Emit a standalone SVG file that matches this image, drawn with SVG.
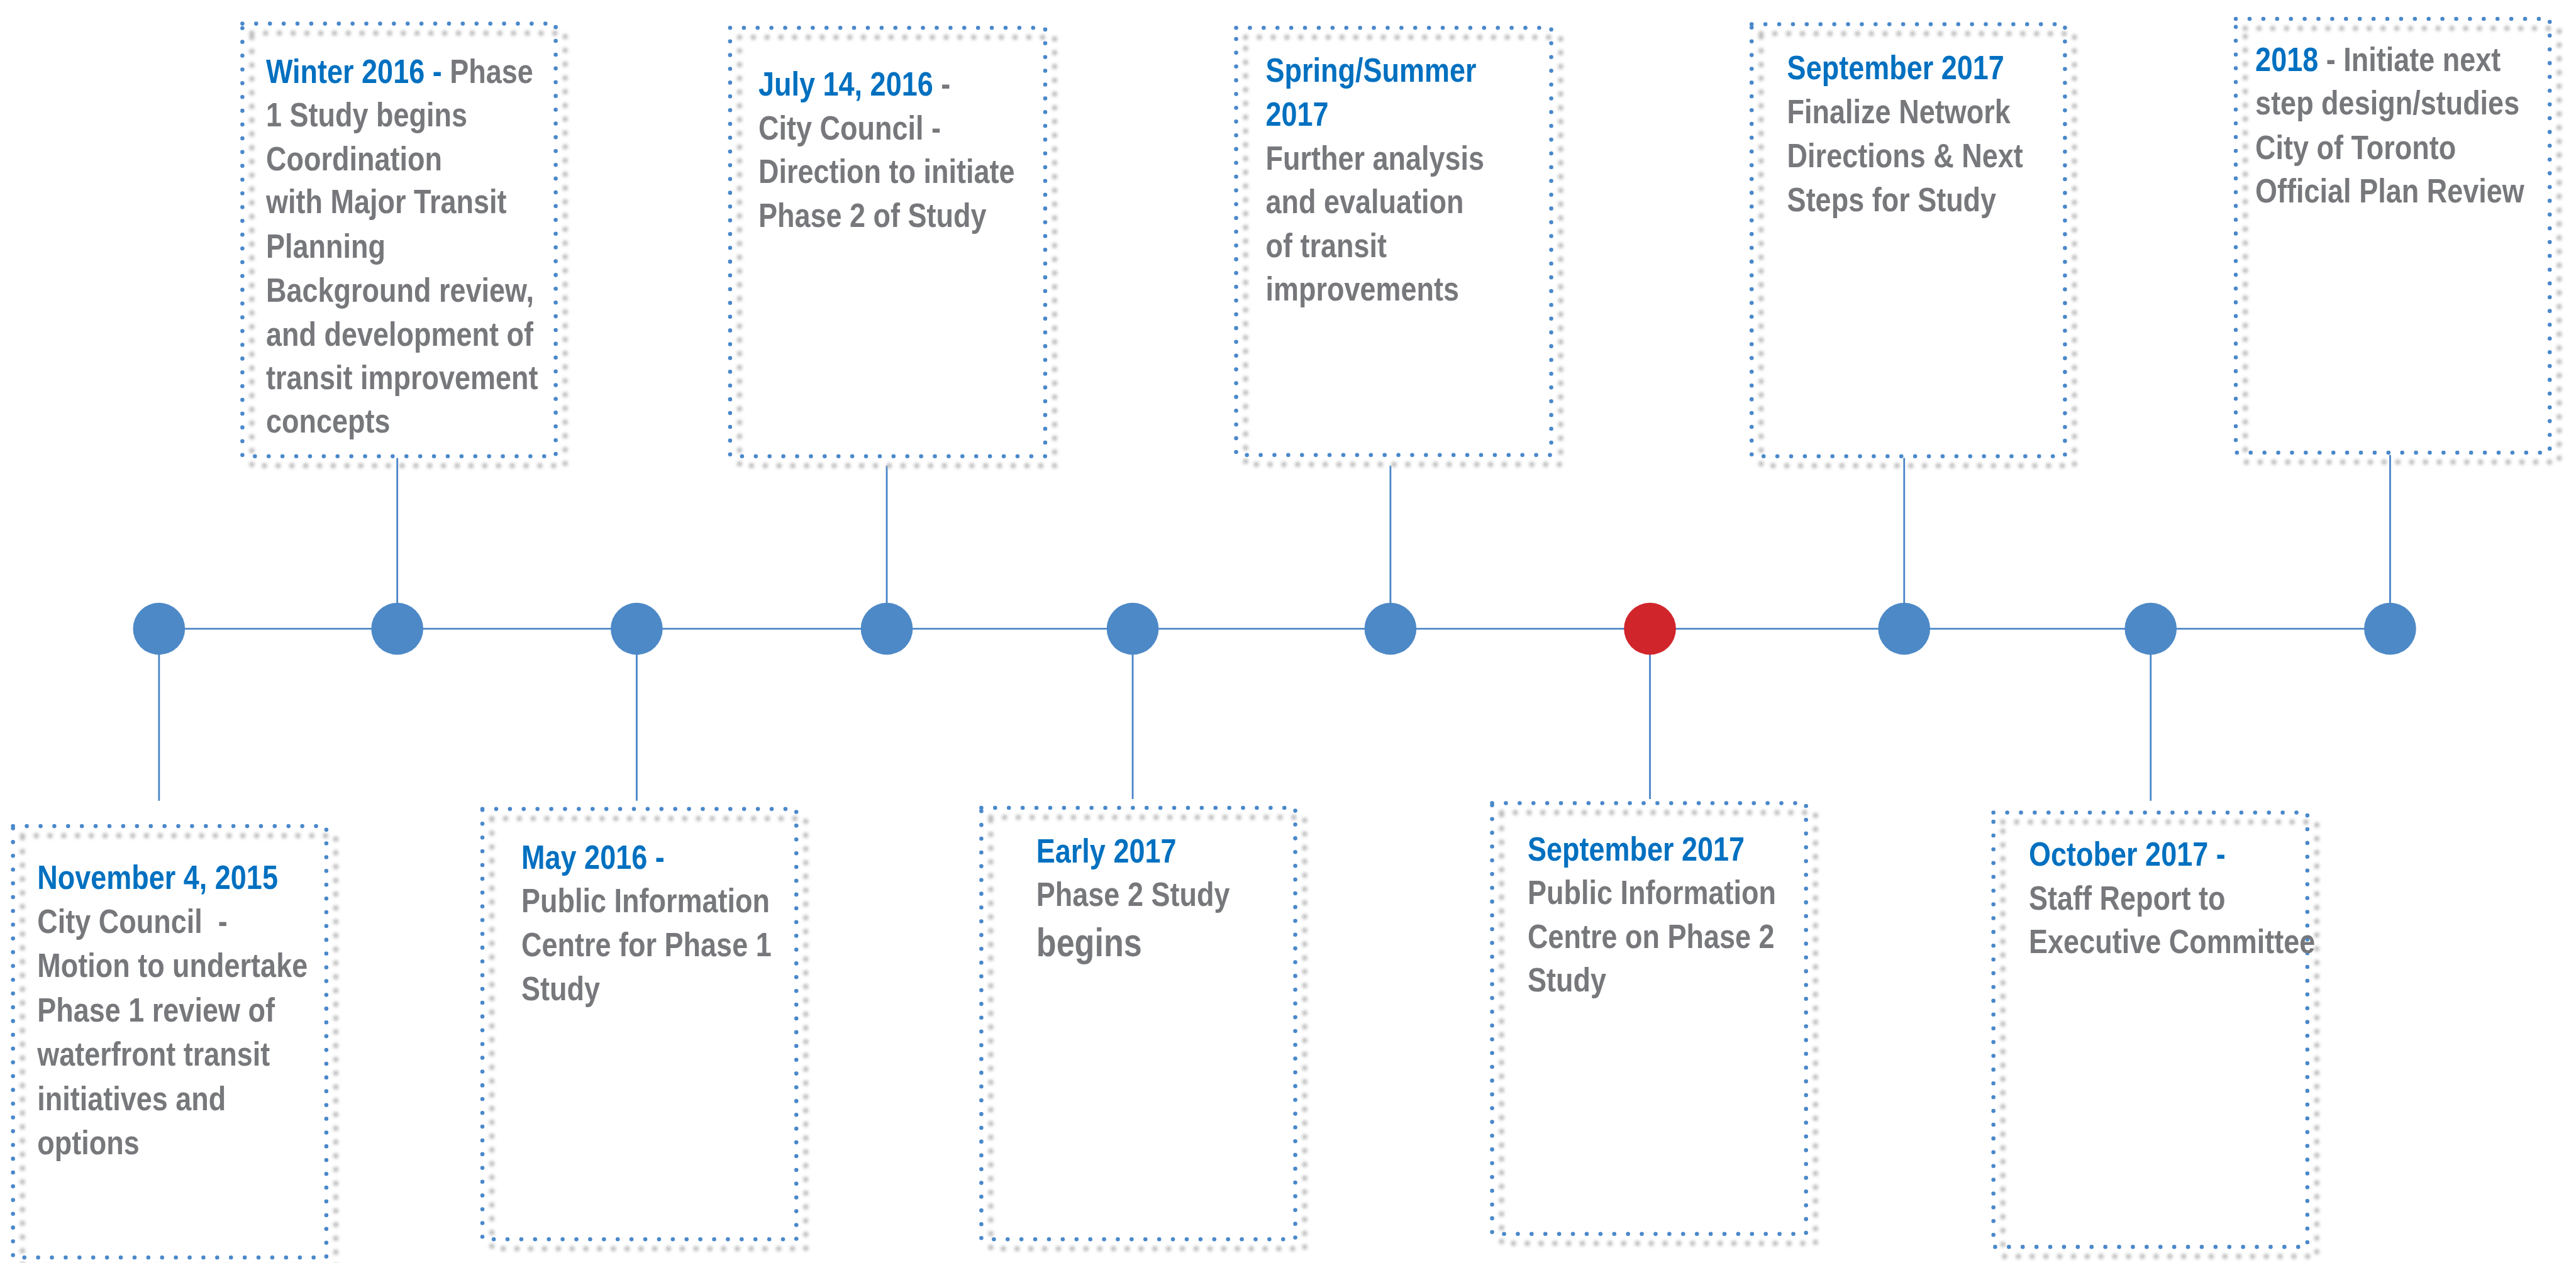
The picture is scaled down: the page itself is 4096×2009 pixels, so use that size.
<svg xmlns="http://www.w3.org/2000/svg" width="4096" height="2009" viewBox="0 0 4096 2009">
<defs>
<filter id="blur" x="-5%" y="-5%" width="110%" height="110%"><feGaussianBlur stdDeviation="2.6"/></filter>
<style>
.box{fill:none;stroke:#4A88CA;stroke-width:7;stroke-linecap:round;stroke-dasharray:0 23.3}
.shadow{fill:none;stroke:#B5B5B5;stroke-width:8.5;stroke-linecap:round;stroke-dasharray:0 23.3;filter:url(#blur)}
.t{font-family:"Liberation Sans",Arial,sans-serif;font-weight:bold;font-size:57px;fill:#77787B}
.b{fill:#0070C0}
.conn{stroke:#4A86C8;stroke-width:3;fill:none}
.dot{fill:#4D89C7}
.red{fill:#D1252C}
</style>
</defs>
<rect x="0" y="0" width="4096" height="2009" fill="#FFFFFF"/>
<g transform="scale(0.94)">
<g id="connectors">
<line class="conn" x1="269" y1="1064" x2="4043" y2="1064"/>
<line class="conn" x1="269" y1="1064" x2="269" y2="1355"/>
<line class="conn" x1="672" y1="775" x2="672" y2="1064"/>
<line class="conn" x1="1077" y1="1064" x2="1077" y2="1355"/>
<line class="conn" x1="1500" y1="788" x2="1500" y2="1064"/>
<line class="conn" x1="1916" y1="1064" x2="1916" y2="1352"/>
<line class="conn" x1="2352" y1="788" x2="2352" y2="1064"/>
<line class="conn" x1="2791" y1="1064" x2="2791" y2="1352"/>
<line class="conn" x1="3221" y1="775" x2="3221" y2="1064"/>
<line class="conn" x1="3638" y1="1064" x2="3638" y2="1355"/>
<line class="conn" x1="4043" y1="770" x2="4043" y2="1064"/>
</g>
<g id="points">
<circle id="p1" class="dot" cx="269" cy="1064" r="44"/>
<circle id="p2" class="dot" cx="672" cy="1064" r="44"/>
<circle id="p3" class="dot" cx="1077" cy="1064" r="44"/>
<circle id="p4" class="dot" cx="1500" cy="1064" r="44"/>
<circle id="p5" class="dot" cx="1916" cy="1064" r="44"/>
<circle id="p6" class="dot" cx="2352" cy="1064" r="44"/>
<circle id="p7" class="red" cx="2791" cy="1064" r="44"/>
<circle id="p8" class="dot" cx="3221" cy="1064" r="44"/>
<circle id="p9" class="dot" cx="3638" cy="1064" r="44"/>
<circle id="p10" class="dot" cx="4043" cy="1064" r="44"/>
</g>

<g id="nov2015">
<rect class="shadow" x="38" y="1414" width="530" height="730"/>
<rect class="box" x="22" y="1398" width="530" height="730"/>
<text class="t" transform="translate(63 0) scale(0.84 1)">
<tspan class="b" x="0" y="1504">November 4, 2015</tspan>
<tspan x="0" y="1579" xml:space="preserve">City Council  -</tspan>
<tspan x="0" y="1653">Motion to undertake</tspan>
<tspan x="0" y="1729">Phase 1 review of</tspan>
<tspan x="0" y="1803">waterfront transit</tspan>
<tspan x="0" y="1879">initiatives and</tspan>
<tspan x="0" y="1953">options</tspan>
</text>
</g>

<g id="winter2016">
<rect class="shadow" x="426" y="56" width="530" height="732"/>
<rect class="box" x="410" y="40" width="530" height="732"/>
<text class="t" transform="translate(450 0) scale(0.84 1)">
<tspan x="0" y="140"><tspan class="b">Winter 2016 -</tspan> Phase</tspan>
<tspan x="0" y="214">1 Study begins</tspan>
<tspan x="0" y="288">Coordination</tspan>
<tspan x="0" y="361">with Major Transit</tspan>
<tspan x="0" y="436">Planning</tspan>
<tspan x="0" y="511">Background review,</tspan>
<tspan x="0" y="585">and development of</tspan>
<tspan x="0" y="659">transit improvement</tspan>
<tspan x="0" y="732">concepts</tspan>
</text>
</g>

<g id="may2016">
<rect class="shadow" x="832" y="1385" width="531" height="728"/>
<rect class="box" x="816" y="1369" width="531" height="728"/>
<text class="t" transform="translate(882 0) scale(0.84 1)">
<tspan class="b" x="0" y="1470">May 2016 -</tspan>
<tspan x="0" y="1544">Public Information</tspan>
<tspan x="0" y="1618">Centre for Phase 1</tspan>
<tspan x="0" y="1693">Study</tspan>
</text>
</g>

<g id="jul2016">
<rect class="shadow" x="1251" y="63" width="533" height="725"/>
<rect class="box" x="1235" y="47" width="533" height="725"/>
<text class="t" transform="translate(1283 0) scale(0.84 1)">
<tspan x="0" y="162"><tspan class="b">July 14, 2016</tspan> -</tspan>
<tspan x="0" y="236">City Council -</tspan>
<tspan x="0" y="310">Direction to initiate</tspan>
<tspan x="0" y="384">Phase 2 of Study</tspan>
</text>
</g>

<g id="early2017">
<rect class="shadow" x="1676" y="1383" width="531" height="730"/>
<rect class="box" x="1660" y="1367" width="531" height="730"/>
<text class="t" transform="translate(1753 0) scale(0.84 1)">
<tspan class="b" x="0" y="1460">Early 2017</tspan>
<tspan x="0" y="1533">Phase 2 Study</tspan>
<tspan x="0" y="1618" font-size="66">begins</tspan>
</text>
</g>

<g id="spring2017">
<rect class="shadow" x="2107" y="63" width="533" height="723"/>
<rect class="box" x="2091" y="47" width="533" height="723"/>
<text class="t" transform="translate(2141 0) scale(0.84 1)">
<tspan class="b" x="0" y="138">Spring/Summer</tspan>
<tspan class="b" x="0" y="213">2017</tspan>
<tspan x="0" y="287">Further analysis</tspan>
<tspan x="0" y="361">and evaluation</tspan>
<tspan x="0" y="435">of transit</tspan>
<tspan x="0" y="509">improvements</tspan>
</text>
</g>

<g id="sep2017pic">
<rect class="shadow" x="2540" y="1375" width="531" height="729"/>
<rect class="box" x="2524" y="1359" width="531" height="729"/>
<text class="t" transform="translate(2584 0) scale(0.84 1)">
<tspan class="b" x="0" y="1456">September 2017</tspan>
<tspan x="0" y="1530">Public Information</tspan>
<tspan x="0" y="1604">Centre on Phase 2</tspan>
<tspan x="0" y="1678">Study</tspan>
</text>
</g>

<g id="sep2017final">
<rect class="shadow" x="2979" y="57" width="530" height="731"/>
<rect class="box" x="2963" y="41" width="530" height="731"/>
<text class="t" transform="translate(3023 0) scale(0.84 1)">
<tspan class="b" x="0" y="134">September 2017</tspan>
<tspan x="0" y="209">Finalize Network</tspan>
<tspan x="0" y="283">Directions &amp; Next</tspan>
<tspan x="0" y="357">Steps for Study</tspan>
</text>
</g>

<g id="oct2017">
<rect class="shadow" x="3388" y="1391" width="531" height="735"/>
<rect class="box" x="3372" y="1375" width="531" height="735"/>
<text class="t" transform="translate(3432 0) scale(0.84 1)">
<tspan class="b" x="0" y="1465">October 2017 -</tspan>
<tspan x="0" y="1539">Staff Report to</tspan>
<tspan x="0" y="1613">Executive Committee</tspan>
</text>
</g>

<g id="y2018">
<rect class="shadow" x="3798" y="48" width="531" height="734"/>
<rect class="box" x="3782" y="32" width="531" height="734"/>
<text class="t" transform="translate(3815 0) scale(0.84 1)">
<tspan x="0" y="120"><tspan class="b">2018</tspan> - Initiate next</tspan>
<tspan x="0" y="194">step design/studies</tspan>
<tspan x="0" y="269">City of Toronto</tspan>
<tspan x="0" y="343">Official Plan Review</tspan>
</text>
</g>
</g>
</svg>
